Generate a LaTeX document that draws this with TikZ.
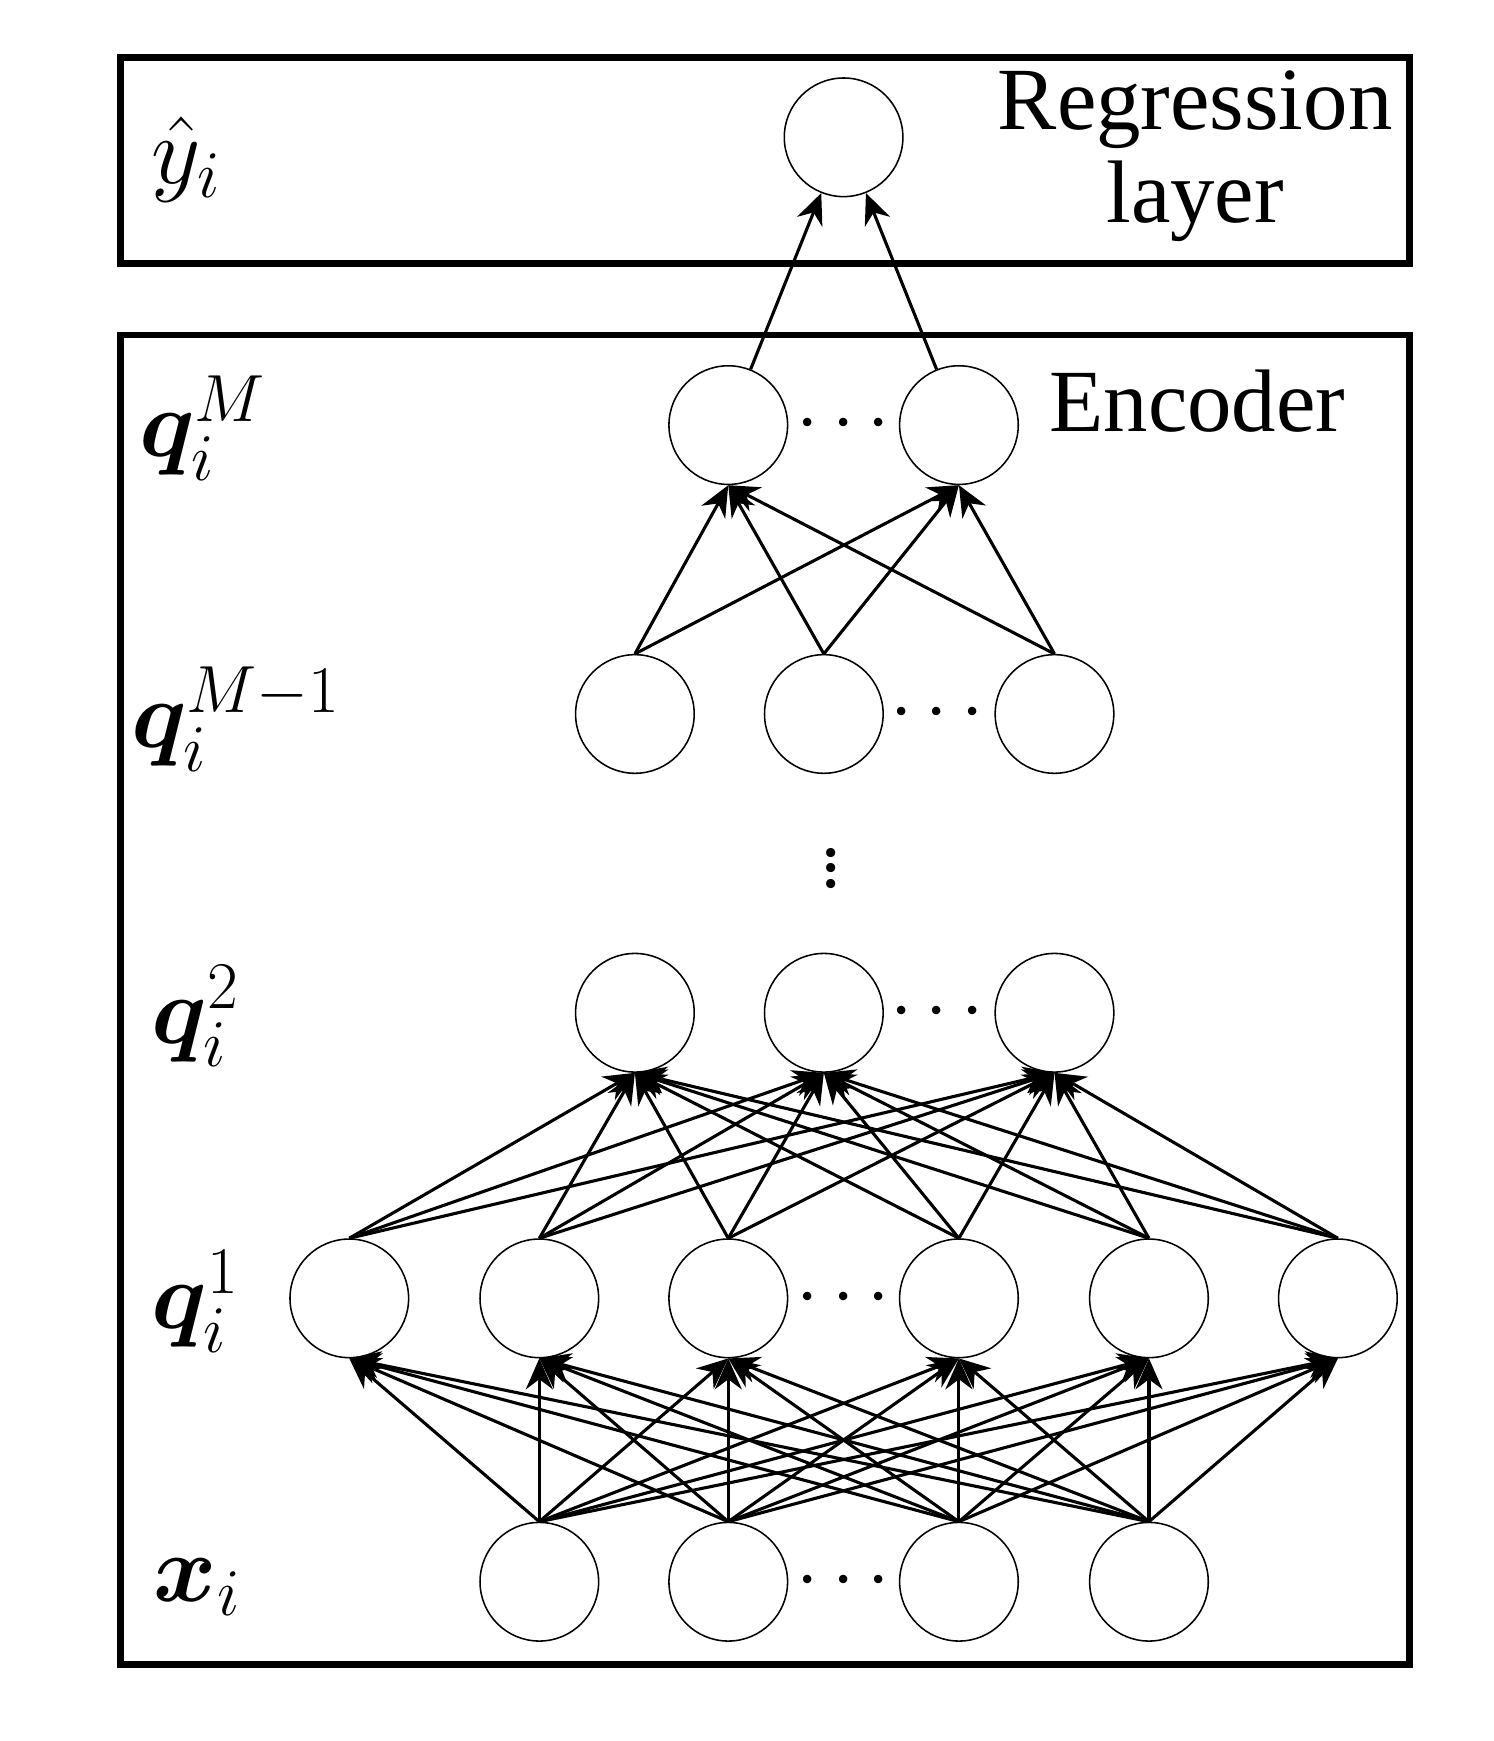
\documentclass[tikz,border=0pt]{standalone}
\usepackage{fontspec}
\usepackage{bm}
\setmainfont{Liberation Serif}
\usetikzlibrary{arrows.meta}
\tikzset{
  neuron/.style={circle, draw, thin, minimum size=1.08cm, inner sep=0pt},
  conn/.style={-{Stealth[length=8pt,width=7pt]}, thick},
  lab/.style={font=\fontsize{24}{26}\selectfont},
  txt/.style={font=\fontsize{23}{26}\selectfont, align=center},
  dots/.style={font=\fontsize{20}{22}\selectfont}
}
\begin{document}
\begin{tikzpicture}
  \useasboundingbox (0,0) rectangle (13.60,-15.85);
  % boxes
  \draw[line width=1.8pt] (1.10,-0.52) rectangle (12.83,-2.40);
  \draw[line width=1.8pt] (1.10,-3.05) rectangle (12.83,-15.15);
  \node[txt] at (10.88,-1.42) {Regression\\[-2pt]layer};
  \node[txt] at (10.90,-3.65) {Encoder};
  % layers
  \node[neuron] (r) at (7.68,-1.25) {};
  \foreach \n/\x in {1/6.63,2/8.73} \node[neuron] (m\n) at (\x,-3.87) {};
  \foreach \n/\x in {1/5.78,2/7.50,3/9.60} \node[neuron] (p\n) at (\x,-6.50) {};
  \foreach \n/\x in {1/5.78,2/7.50,3/9.60} \node[neuron] (b\n) at (\x,-9.22) {};
  \foreach \n/\x in {1/3.18,2/4.91,3/6.63,4/8.73,5/10.46,6/12.18} \node[neuron] (a\n) at (\x,-11.82) {};
  \foreach \n/\x in {1/4.91,2/6.63,3/8.73,4/10.46} \node[neuron] (x\n) at (\x,-14.40) {};
  % dots
  \node[dots] (dm) at (7.68,-3.87) {$\cdots$};
  \node[dots] (dp) at (8.53,-6.50) {$\cdots$};
  \node[dots] (db) at (8.53,-9.22) {$\cdots$};
  \node[dots] (da) at (7.68,-11.82) {$\cdots$};
  \node[dots] (dx) at (7.68,-14.40) {$\cdots$};
  \node[dots] (dv) at (7.57,-7.80) {$\vdots$};
  % connections
  \foreach \i in {1,2} \draw[conn] (m\i) -- (r);
  \foreach \i in {1,2,3} \foreach \j in {1,2} \draw[conn] (p\i.north) -- (m\j.south);
  \foreach \i in {1,...,6} \foreach \j in {1,2,3} \draw[conn] (a\i.north) -- (b\j.south);
  \foreach \i in {1,...,4} \foreach \j in {1,...,6} \draw[conn] (x\i.north) -- (a\j.south);
  % labels
  \node[lab] (ly) at (1.70,-1.45) {$\hat{y}_i$};
  \node[lab] (lm) at (1.85,-3.90) {$\bm{q}_i^{M}$};
  \node[lab] (lp) at (2.15,-6.55) {$\bm{q}_i^{M-1}$};
  \node[lab] (lb) at (1.78,-9.25) {$\bm{q}_i^{2}$};
  \node[lab] (la) at (1.78,-11.85) {$\bm{q}_i^{1}$};
  \node[lab] (lx) at (1.80,-14.45) {$\bm{x}_i$};
\end{tikzpicture}
\end{document}
